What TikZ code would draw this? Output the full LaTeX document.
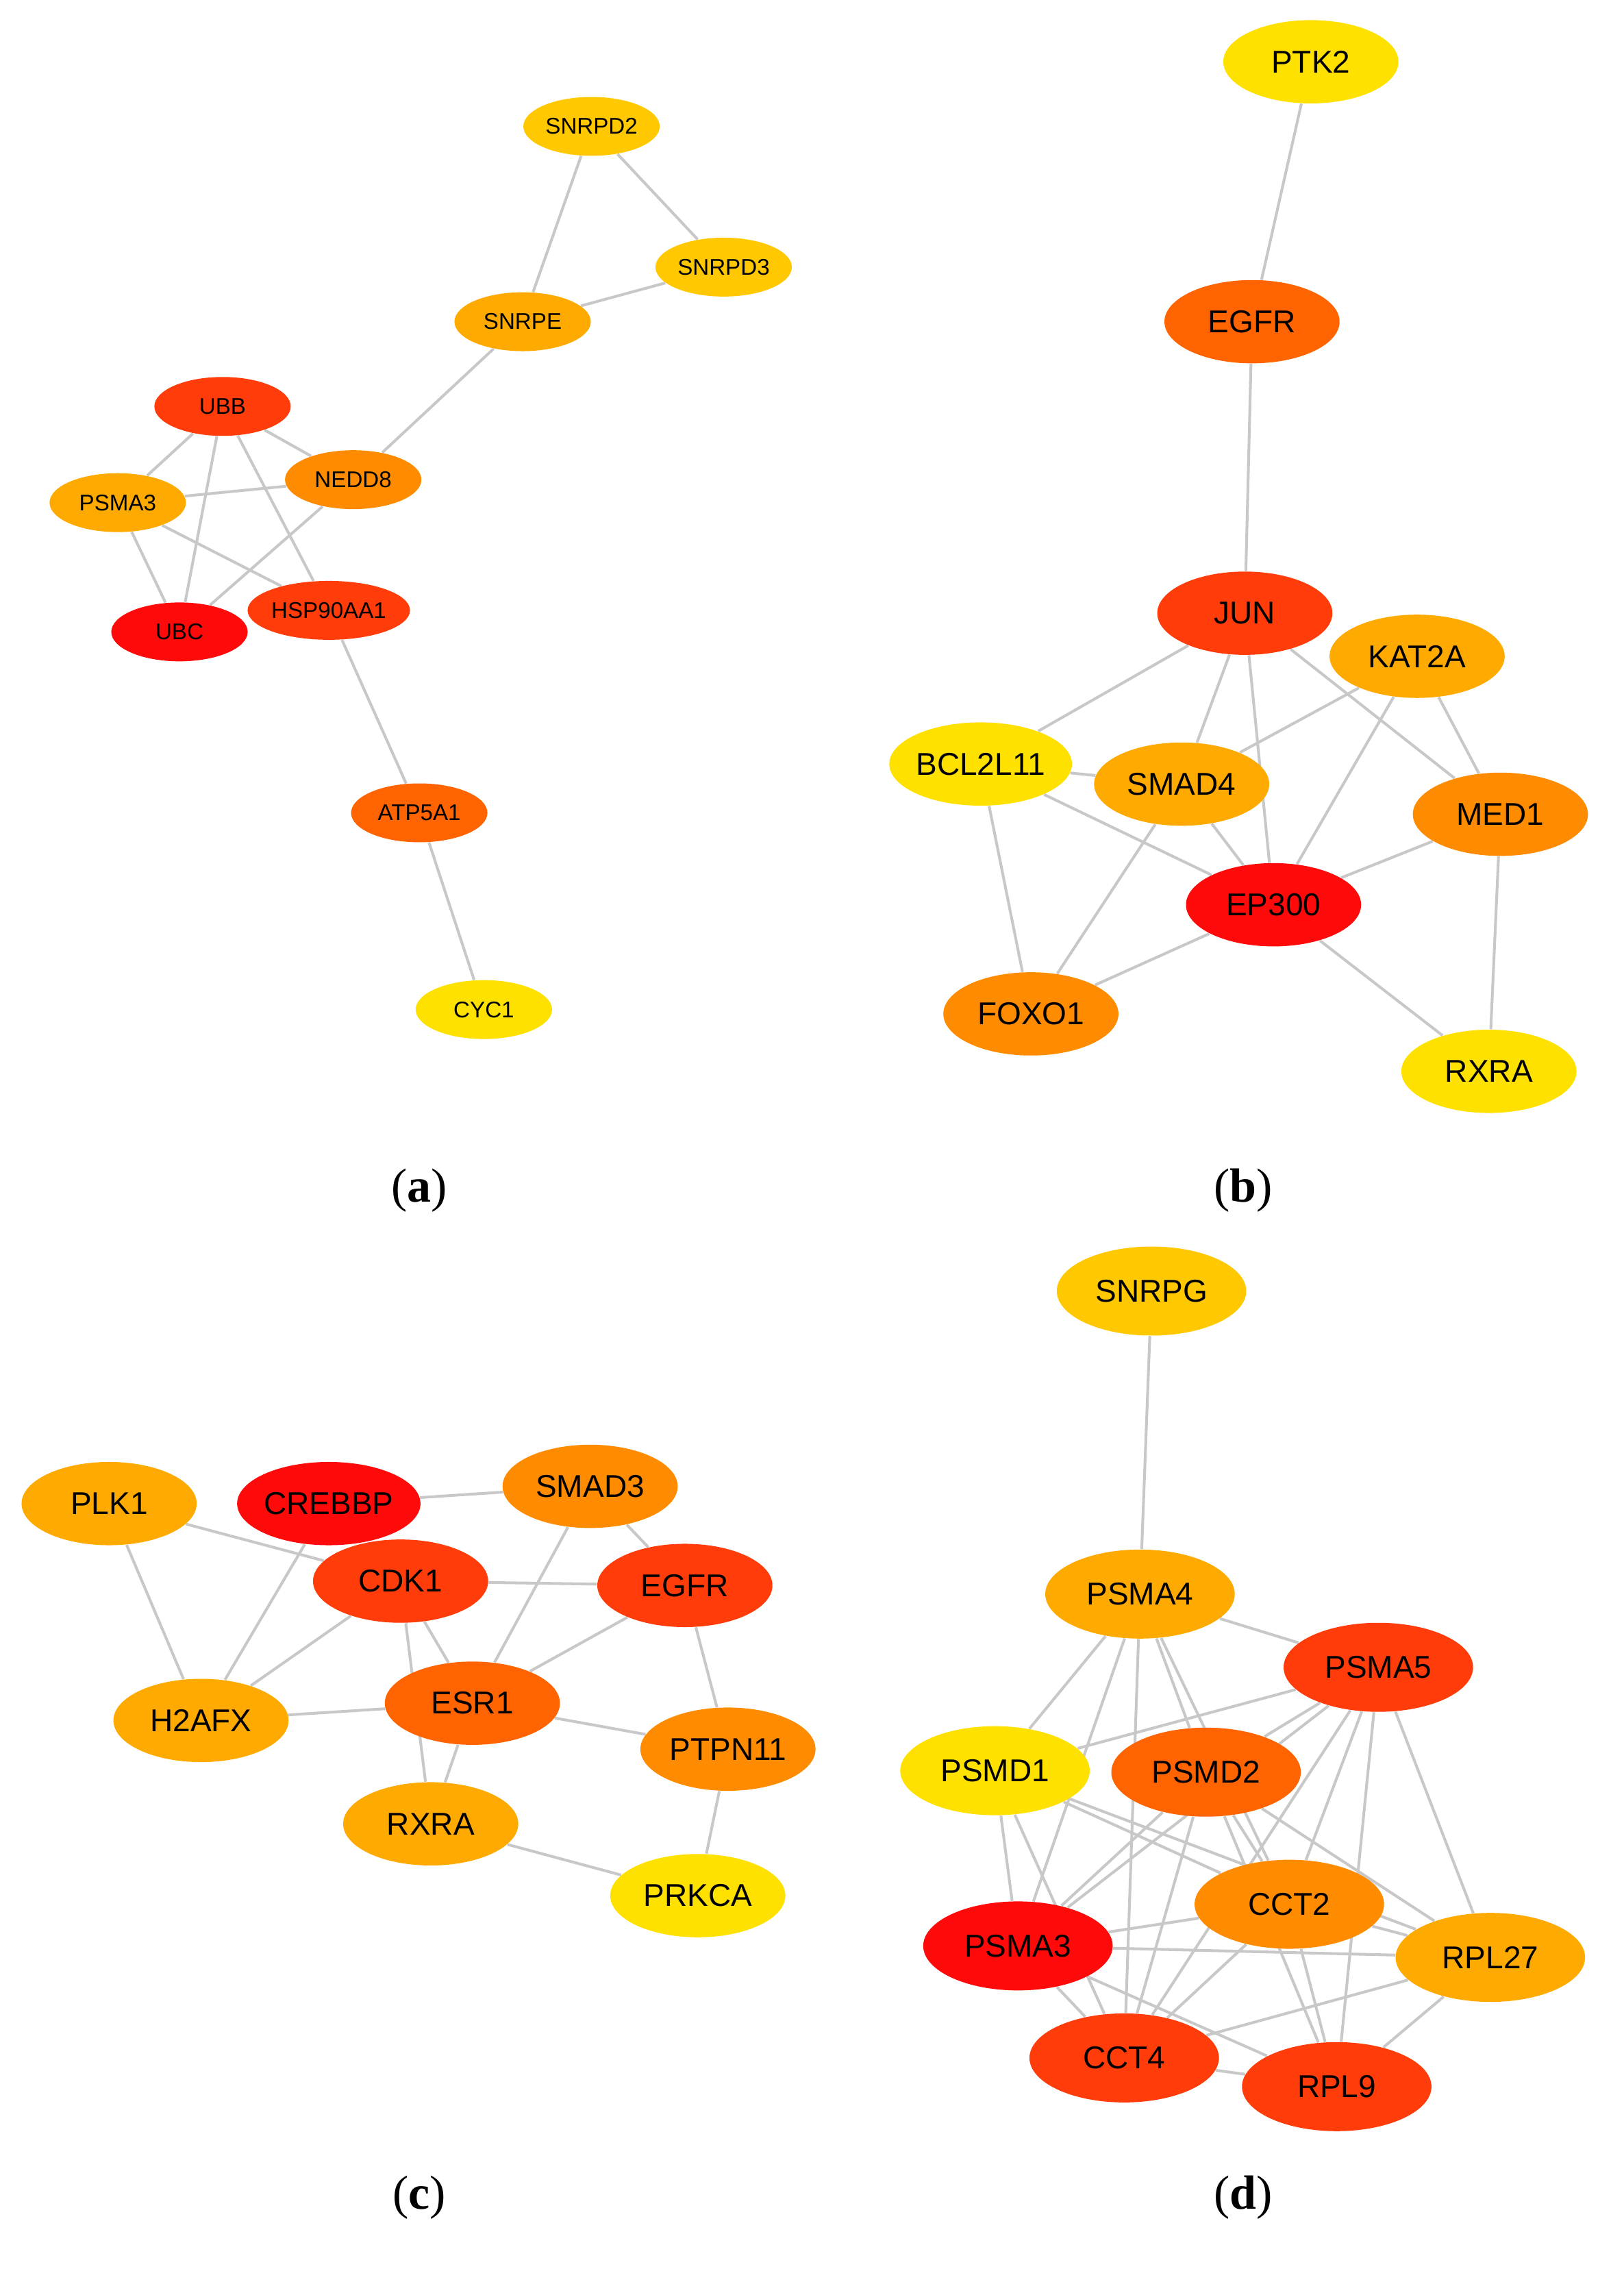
\documentclass[tikz,border=0pt]{standalone}
\usepackage{fontspec}
\setmainfont{Liberation Serif}
\newfontfamily\gene{Liberation Sans}
\usetikzlibrary{shapes.geometric,backgrounds}
\definecolor{cRed}{RGB}{255,10,10}
\definecolor{cRedOr}{RGB}{255,60,10}
\definecolor{cDkOr}{RGB}{255,100,0}
\definecolor{cOr}{RGB}{255,140,0}
\definecolor{cLtOr}{RGB}{255,170,0}
\definecolor{cGold}{RGB}{255,200,0}
\definecolor{cYel}{RGB}{255,225,0}
\definecolor{cEdge}{RGB}{200,200,200}
\begin{document}
\begin{tikzpicture}[x=0.02cm,y=-0.02cm]
  \tikzstyle{small gene}=[ellipse,inner sep=0,minimum width=1.9cm,minimum height=0.82cm,font=\gene\fontsize{9}{10}\selectfont]
  \tikzstyle{big gene}=[ellipse,inner sep=0,minimum width=2.44cm,minimum height=1.16cm,font=\gene\fontsize{12.5}{14}\selectfont]
  \tikzstyle{bigger gene}=[big gene,minimum width=2.64cm,minimum height=1.24cm]
  \tikzstyle{link}=[draw=cEdge,line width=1.1pt]
  \tikzstyle{panel}=[font=\fontsize{19}{22}\selectfont]
  \useasboundingbox (0,0) rectangle (1131,1580);
  % (a)
  \node(aD2)[small gene,fill=cGold] at (412,88) {SNRPD2};
  \node(aD3)[small gene,fill=cGold] at (504,186) {SNRPD3};
  \node(aE)[small gene,fill=cLtOr] at (364,224) {SNRPE};
  \node(aUBB)[small gene,fill=cRedOr] at (155,283) {UBB};
  \node(aNEDD)[small gene,fill=cOr] at (246,334) {NEDD8};
  \node(aPSMA)[small gene,fill=cLtOr] at (82,350) {PSMA3};
  \node(aUBC)[small gene,fill=cRed] at (125,440) {UBC};
  \node(aHSP)[small gene,fill=cRedOr] at (229,425) {HSP90AA1};
  \node(aATP)[small gene,fill=cDkOr] at (292,566) {ATP5A1};
  \node(aCYC)[small gene,fill=cYel] at (337,703) {CYC1};
  % (b)
  \node(bPTK)[big gene,fill=cYel] at (913,43) {PTK2};
  \node(bEGFR)[big gene,fill=cDkOr] at (872,224) {EGFR};
  \node(bJUN)[big gene,fill=cRedOr] at (867,427) {JUN};
  \node(bKAT)[big gene,fill=cLtOr] at (987,457) {KAT2A};
  \node(bBCL)[big gene,fill=cYel] at (683,532) {BCL2L11};
  \node(bSMAD)[big gene,fill=cLtOr] at (823,546) {SMAD4};
  \node(bMED)[big gene,fill=cOr] at (1045,567) {MED1};
  \node(bEP)[big gene,fill=cRed] at (887,630) {EP300};
  \node(bFOX)[big gene,fill=cOr] at (718,706) {FOXO1};
  \node(bRXR)[big gene,fill=cYel] at (1037,746) {RXRA};
  % (c)
  \node(cPLK)[big gene,fill=cLtOr] at (76,1047) {PLK1};
  \node(cCREB)[big gene,fill=cRed] at (229,1047) {CREBBP};
  \node(cSMAD)[big gene,fill=cOr] at (411,1035) {SMAD3};
  \node(cCDK)[big gene,fill=cRedOr] at (279,1101) {CDK1};
  \node(cEGFR)[big gene,fill=cRedOr] at (477,1104) {EGFR};
  \node(cH2A)[big gene,fill=cLtOr] at (140,1198) {H2AFX};
  \node(cESR)[big gene,fill=cDkOr] at (329,1186) {ESR1};
  \node(cPTP)[big gene,fill=cOr] at (507,1218) {PTPN11};
  \node(cRXR)[big gene,fill=cLtOr] at (300,1270) {RXRA};
  \node(cPRK)[big gene,fill=cYel] at (486,1320) {PRKCA};
  % (d)
  \node(dSNR)[bigger gene,fill=cGold] at (802,899) {SNRPG};
  \node(dA4)[bigger gene,fill=cLtOr] at (794,1110) {PSMA4};
  \node(dA5)[bigger gene,fill=cRedOr] at (960,1161) {PSMA5};
  \node(dD1)[bigger gene,fill=cYel] at (693,1233) {PSMD1};
  \node(dD2)[bigger gene,fill=cDkOr] at (840,1234) {PSMD2};
  \node(dCT2)[bigger gene,fill=cOr] at (898,1326) {CCT2};
  \node(dA3)[bigger gene,fill=cRed] at (709,1355) {PSMA3};
  \node(dL27)[bigger gene,fill=cLtOr] at (1038,1363) {RPL27};
  \node(dCT4)[bigger gene,fill=cRedOr] at (783,1433) {CCT4};
  \node(dL9)[bigger gene,fill=cRedOr] at (931,1453) {RPL9};
  \begin{scope}[on background layer]
  \foreach \u/\v in {aD2/aE,aD2/aD3,aD3/aE,aE/aNEDD,aUBB/aPSMA,aUBB/aNEDD,aUBB/aUBC,aUBB/aHSP,
      aPSMA/aNEDD,aPSMA/aUBC,aPSMA/aHSP,aNEDD/aUBC,aHSP/aATP,aATP/aCYC}
    \path[link] (\u) -- (\v);
  \foreach \u/\v in {bPTK/bEGFR,bEGFR/bJUN,bJUN/bBCL,bJUN/bSMAD,bJUN/bEP,bJUN/bMED,bKAT/bSMAD,
      bKAT/bEP,bKAT/bMED,bBCL/bSMAD,bBCL/bEP,bBCL/bFOX,bSMAD/bEP,bSMAD/bFOX,bEP/bMED,bEP/bFOX,
      bEP/bRXR,bMED/bRXR}
    \path[link] (\u) -- (\v);
  \foreach \u/\v in {cPLK/cCDK,cPLK/cH2A,cCREB/cSMAD,cCREB/cH2A,cCDK/cH2A,cCDK/cEGFR,cCDK/cESR,
      cCDK/cRXR,cSMAD/cESR,cSMAD/cEGFR,cEGFR/cESR,cEGFR/cPTP,cH2A/cESR,cESR/cPTP,cESR/cRXR,
      cPTP/cPRK,cRXR/cPRK}
    \path[link] (\u) -- (\v);
  \foreach \u/\v in {dSNR/dA4,dA4/dA5,dA4/dD1,dA4/dD2,dA4/dCT2,dA4/dA3,dA4/dCT4,dD1/dA5,dD1/dCT2,
      dD1/dL27,dD1/dA3,dD1/dCT4,dD2/dA5,dA5/dCT2,dA5/dA3,dA5/dCT4,dA5/dL9,dA5/dL27,dD2/dCT2,
      dD2/dL9,dD2/dL27,dD2/dCT4,dD2/dA3,dCT2/dA3,dCT2/dCT4,dCT2/dL9,dCT2/dL27,dA3/dL27,dA3/dCT4,
      dA3/dL9,dCT4/dL27,dL9/dL27,dCT4/dL9}
    \path[link] (\u) -- (\v);
  \end{scope}
  % panel labels
  \node(la)[panel] at (292,829) {(\textbf{a})};
  \node(lb)[panel] at (866,829) {(\textbf{b})};
  \node(lc)[panel] at (292,1530) {(\textbf{c})};
  \node(ld)[panel] at (866,1530) {(\textbf{d})};
\end{tikzpicture}
\end{document}
